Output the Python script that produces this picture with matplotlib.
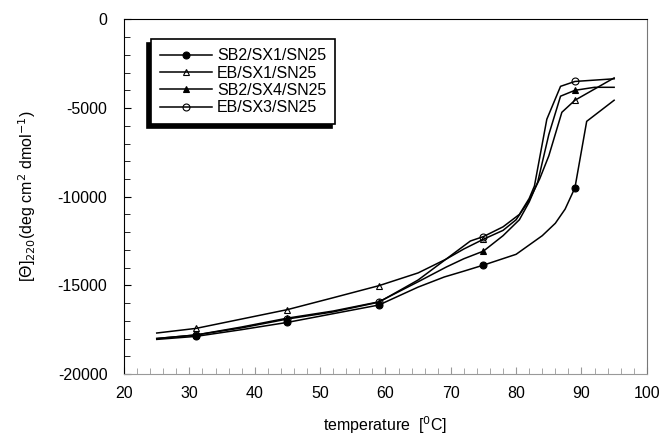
import numpy as np
import matplotlib.pyplot as plt
from matplotlib.ticker import MultipleLocator

plt.rcParams['font.family'] = ['Liberation Sans', 'DejaVu Sans']
plt.rcParams['axes.unicode_minus'] = False

# temperature grids and ellipticity values
t_sb2_sx1 = [25, 31, 38, 45, 52, 59, 65, 69, 72, 75, 80, 84, 86, 87.5, 89, 90.8, 95]
v_sb2_sx1 = [-18050, -17880, -17500, -17090, -16600, -16110, -15100, -14530, -14200,
             -13860, -13250, -12200, -11500, -10700, -9500, -5750, -4560]

t_eb_sx1 = [25, 31, 38, 45, 52, 59, 65, 69.3, 72, 75, 78, 80, 82, 83.6, 85, 87, 89, 95]
v_eb_sx1 = [-17690, -17430, -16900, -16370, -15700, -15020, -14300, -13520, -12950,
            -12400, -11900, -11300, -10200, -9000, -7700, -5240, -4560, -3300]

t_sb2_sx4 = [25, 31, 38, 45, 52, 59, 65, 69.3, 72, 75, 78, 80.5, 82, 83.3, 85, 86.8, 89, 92, 95]
v_sb2_sx4 = [-18000, -17800, -17350, -16850, -16450, -15930, -14800, -13970, -13500,
             -13070, -12200, -11300, -10300, -9180, -6500, -4330, -4000, -3830, -3830]

t_eb_sx3 = [25, 31, 38, 45, 52, 59, 65, 69, 73, 75, 78, 80.5, 82, 82.8, 84.7, 86.8, 89, 95]
v_eb_sx3 = [-18000, -17800, -17400, -16900, -16500, -15950, -14700, -13600, -12500,
            -12250, -11700, -11000, -10100, -9400, -5630, -3775, -3500, -3350]

marker_t = [31, 45, 59, 75, 89]

series = [
    ('SB2/SX1/SN25', t_sb2_sx1, v_sb2_sx1, 'o', 'k'),
    ('EB/SX1/SN25', t_eb_sx1, v_eb_sx1, '^', 'none'),
    ('SB2/SX4/SN25', t_sb2_sx4, v_sb2_sx4, '^', 'k'),
    ('EB/SX3/SN25', t_eb_sx3, v_eb_sx3, 'o', 'none'),
]

fig = plt.figure(figsize=(6.6, 4.41), dpi=100)
ax = fig.add_axes([0.188, 0.152, 0.792, 0.804])

for name, t, v, m, fc in series:
    idx = [t.index(x) for x in marker_t]
    ax.plot(t, v, color='k', lw=1.1, marker=m, markevery=idx, markersize=5,
            markerfacecolor=fc, markeredgecolor='k', markeredgewidth=0.8, label=name)

ax.set_xlim(20, 100)
ax.set_ylim(-20000, 0)
ax.xaxis.set_major_locator(MultipleLocator(10))
ax.xaxis.set_minor_locator(MultipleLocator(2))
ax.yaxis.set_major_locator(MultipleLocator(5000))
ax.yaxis.set_minor_locator(MultipleLocator(1000))
ax.tick_params(which='both', direction='in', labelsize=11.5, colors='k')
ax.tick_params(which='major', length=5)
ax.tick_params(which='minor', length=4)
ax.tick_params(axis='x', which='both', color='#999999', pad=9)
ax.tick_params(axis='y', pad=12)
ax.spines['bottom'].set_color('#999999')
ax.spines['right'].set_color('#777777')

ax.set_xlabel('temperature  [$^0$C]', fontsize=11.5, labelpad=9)
ax.set_ylabel(r'[$\Theta$]$_{220}$(deg cm$^2$ dmol$^{-1}$)', fontsize=11.5, labelpad=14)

leg = ax.legend(loc='upper left', bbox_to_anchor=(0.036, 0.966), fontsize=11.5,
                handlelength=3.3, handletextpad=0.3, labelspacing=0.15, borderpad=0.55,
                fancybox=False, edgecolor='k', framealpha=1,
                shadow={'ox': -2.5, 'oy': -2.5, 'color': 'k', 'alpha': 1})
leg.get_frame().set_linewidth(1.2)

fig.savefig('out.png', dpi=100)
